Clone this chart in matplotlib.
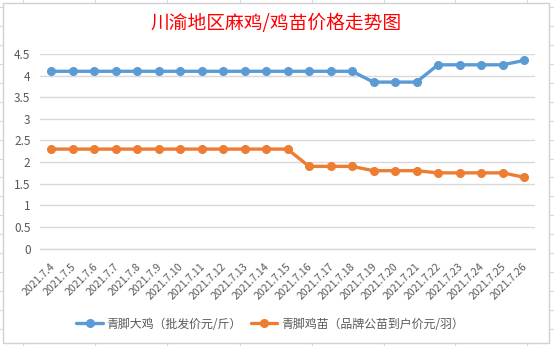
import matplotlib
matplotlib.use("Agg")
import matplotlib.pyplot as plt
import matplotlib.transforms as mtransforms
from matplotlib.lines import Line2D
from matplotlib.patches import Rectangle

plt.rcParams['font.family'] = ['Noto Sans CJK SC', 'DejaVu Sans']

title = "川渝地区麻鸡/鸡苗价格走势图"
dates = ["2021.7.4", "2021.7.5", "2021.7.6", "2021.7.7", "2021.7.8", "2021.7.9",
         "2021.7.10", "2021.7.11", "2021.7.12", "2021.7.13", "2021.7.14", "2021.7.15",
         "2021.7.16", "2021.7.17", "2021.7.18", "2021.7.19", "2021.7.20", "2021.7.21",
         "2021.7.22", "2021.7.23", "2021.7.24", "2021.7.25", "2021.7.26"]
series1_name = "青脚大鸡（批发价元/斤）"
series1 = [4.1, 4.1, 4.1, 4.1, 4.1, 4.1, 4.1, 4.1, 4.1, 4.1, 4.1, 4.1,
           4.1, 4.1, 4.1, 3.85, 3.85, 3.85, 4.25, 4.25, 4.25, 4.25, 4.35]
series2_name = "青脚鸡苗（品牌公苗到户价元/羽）"
series2 = [2.3, 2.3, 2.3, 2.3, 2.3, 2.3, 2.3, 2.3, 2.3, 2.3, 2.3, 2.3,
           1.9, 1.9, 1.9, 1.8, 1.8, 1.8, 1.75, 1.75, 1.75, 1.75, 1.65]
yticks = [0, 0.5, 1, 1.5, 2, 2.5, 3, 3.5, 4, 4.5]
ytick_labels = ["0", "0.5", "1", "1.5", "2", "2.5", "3", "3.5", "4", "4.5"]

W, H = 554, 346
fig = plt.figure(figsize=(W / 100, H / 100), dpi=100)

def fx(px):
    return px / W

def fy(py):
    return 1 - py / H

# spreadsheet cell lines outside the chart frame
cell_color = "#D3D7E0"
for x in [23, 95, 167, 240, 312, 384, 455, 527]:
    fig.add_artist(Line2D([fx(x), fx(x)], [fy(0), fy(3)], color=cell_color, lw=0.8))
    fig.add_artist(Line2D([fx(x), fx(x)], [fy(343), fy(346)], color=cell_color, lw=0.8))
for k in range(18):
    y = 7 + 18.94 * k
    if y < 346:
        fig.add_artist(Line2D([fx(0), fx(3)], [fy(y), fy(y)], color=cell_color, lw=0.8))
        fig.add_artist(Line2D([fx(549), fx(554)], [fy(y), fy(y)], color=cell_color, lw=0.8))

# chart frame
fig.add_artist(Rectangle((fx(3), fy(343)), fx(549) - fx(3), fy(3) - fy(343),
                         fill=False, edgecolor="#D0D0D6", lw=1.0))

left, right, top, bottom = 40.25, 534.75, 54, 248.5
ax = fig.add_axes([fx(left), fy(bottom), fx(right) - fx(left), fy(top) - fy(bottom)])

x = list(range(len(dates)))
blue = "#5B9BD5"
orange = "#ED7D31"
ax.plot(x, series1, color=blue, lw=2.4, marker="o", ms=5.5, label=series1_name,
        solid_capstyle="round", zorder=3)
ax.plot(x, series2, color=orange, lw=2.4, marker="o", ms=5.5, label=series2_name,
        solid_capstyle="round", zorder=3)

ax.set_xlim(-0.5, len(dates) - 0.5)
ax.set_ylim(0, 4.5)
ax.set_yticks(yticks)
ax.set_yticklabels(ytick_labels)
ax.set_xticks(x)
ax.set_xticklabels(dates, rotation=45, ha="right", va="center", rotation_mode="anchor")

for s in ["top", "right", "left"]:
    ax.spines[s].set_visible(False)
ax.spines["bottom"].set_color("#D9D9D9")
ax.spines["bottom"].set_linewidth(1.0)

ax.grid(axis="y", color="#D9D9D9", lw=1.0)
ax.set_axisbelow(True)
ax.tick_params(axis="both", length=0, colors="#595959")
ax.tick_params(axis="y", pad=7, labelsize=8.5)
ax.tick_params(axis="x", pad=12, labelsize=7.6)

offset = mtransforms.ScaledTranslation(2 / 100, 0, fig.dpi_scale_trans)
for lab in ax.get_xticklabels():
    lab.set_transform(lab.get_transform() + offset)

fig.text(fx(276.5), fy(23), title, color="#FF0000", fontsize=13.5,
         ha="center", va="center")

fig.legend(loc="center", bbox_to_anchor=(fx(270), fy(324)), ncol=2, frameon=False,
           fontsize=8.6, labelcolor="#595959", handlelength=2.2, columnspacing=0.8,
           handletextpad=0.3)

fig.savefig("out.png", dpi=100)
